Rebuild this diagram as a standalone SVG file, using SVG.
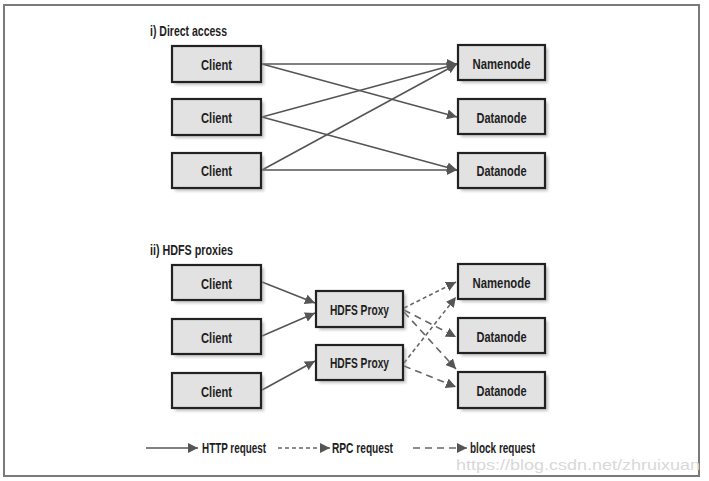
<svg xmlns="http://www.w3.org/2000/svg" width="709" height="481" viewBox="0 0 709 481">
<defs>
<style>
.box{fill:#e2e2e2;stroke:#222;stroke-width:2.2}
.shadow{fill:#9a9a9a;opacity:0.6;filter:url(#blur)}
.lbl{font-family:"Liberation Sans",Arial,sans-serif;font-weight:bold;font-size:15.5px;fill:#1e1e1e;text-anchor:middle}
.title{font-family:"Liberation Sans",Arial,sans-serif;font-weight:bold;font-size:15px;fill:#1e1e1e}
.http{stroke:#555;stroke-width:1.6;fill:none}
.rpc{stroke:#666;stroke-width:1.6;fill:none;stroke-dasharray:4 3}
.blk{stroke:#666;stroke-width:1.6;fill:none;stroke-dasharray:7 5}
.wm{font-family:"Liberation Sans",Arial,sans-serif;font-size:15px;fill:#d8d8d8}
</style>
<filter id="blur" x="-20%" y="-20%" width="140%" height="140%"><feGaussianBlur stdDeviation="1.5"/></filter>
<marker id="ahL" viewBox="0 0 10 10" refX="10" refY="5" markerWidth="10" markerHeight="10" markerUnits="userSpaceOnUse" orient="auto">
<path d="M0,0 L10,5 L0,10 z" fill="#555"/>
</marker>
</defs>
<rect x="0" y="0" width="709" height="481" fill="#fff"/>
<rect x="4" y="5" width="695" height="471" fill="none" stroke="#7a7a7a" stroke-width="2"/>

<text class="title" x="150" y="36" textLength="77" lengthAdjust="spacingAndGlyphs">i) Direct access</text>
<text class="title" x="150" y="255" textLength="83" lengthAdjust="spacingAndGlyphs">ii) HDFS proxies</text>

<g id="connectors">
<line class="http" x1="262" y1="64" x2="457" y2="64" marker-end="url(#ahL)"/>
<line class="http" x1="262" y1="64" x2="457" y2="117" marker-end="url(#ahL)"/>
<line class="http" x1="262" y1="117" x2="457" y2="64" marker-end="url(#ahL)"/>
<line class="http" x1="262" y1="117" x2="457" y2="170" marker-end="url(#ahL)"/>
<line class="http" x1="262" y1="170" x2="457" y2="64" marker-end="url(#ahL)"/>
<line class="http" x1="262" y1="170" x2="457" y2="170" marker-end="url(#ahL)"/>

<line class="http" x1="262" y1="282" x2="315" y2="303" marker-end="url(#ahL)"/>
<line class="http" x1="262" y1="336" x2="315" y2="313" marker-end="url(#ahL)"/>
<line class="http" x1="262" y1="390" x2="315" y2="361" marker-end="url(#ahL)"/>

<line class="rpc" x1="404" y1="308" x2="456" y2="282" marker-end="url(#ahL)"/>
<line class="rpc" x1="404" y1="363" x2="456" y2="297" marker-end="url(#ahL)"/>
<line class="blk" x1="404" y1="310" x2="456" y2="337" marker-end="url(#ahL)"/>
<line class="blk" x1="404" y1="312" x2="456" y2="369" marker-end="url(#ahL)"/>
<line class="blk" x1="404" y1="366" x2="456" y2="387" marker-end="url(#ahL)"/>

<line class="http" x1="146" y1="448" x2="198" y2="448" marker-end="url(#ahL)"/>
<line class="rpc" x1="278" y1="448" x2="330" y2="448" marker-end="url(#ahL)"/>
<line class="blk" x1="413" y1="448" x2="467" y2="448" marker-end="url(#ahL)"/>
</g>

<g id="client1"><rect class="shadow" x="175" y="49" width="89" height="36"/><rect class="box" x="172" y="46" width="89" height="36"/><text class="lbl" x="216.5" y="69.5" textLength="31" lengthAdjust="spacingAndGlyphs">Client</text></g>
<g id="client2"><rect class="shadow" x="175" y="102" width="89" height="36"/><rect class="box" x="172" y="99" width="89" height="36"/><text class="lbl" x="216.5" y="122.5" textLength="31" lengthAdjust="spacingAndGlyphs">Client</text></g>
<g id="client3"><rect class="shadow" x="175" y="156" width="89" height="35"/><rect class="box" x="172" y="153" width="89" height="35"/><text class="lbl" x="216.5" y="175.5" textLength="31" lengthAdjust="spacingAndGlyphs">Client</text></g>
<g id="namenode1"><rect class="shadow" x="461" y="48" width="87" height="35"/><rect class="box" x="458" y="45" width="87" height="35"/><text class="lbl" x="501.5" y="68.5" textLength="58" lengthAdjust="spacingAndGlyphs">Namenode</text></g>
<g id="datanode1"><rect class="shadow" x="461" y="102" width="87" height="35"/><rect class="box" x="458" y="99" width="87" height="35"/><text class="lbl" x="501.5" y="122.5" textLength="50" lengthAdjust="spacingAndGlyphs">Datanode</text></g>
<g id="datanode2"><rect class="shadow" x="461" y="156" width="87" height="35"/><rect class="box" x="458" y="153" width="87" height="35"/><text class="lbl" x="501.5" y="175.5" textLength="50" lengthAdjust="spacingAndGlyphs">Datanode</text></g>

<g id="client4"><rect class="shadow" x="175" y="268" width="89" height="35"/><rect class="box" x="172" y="265" width="89" height="35"/><text class="lbl" x="216.5" y="288.5" textLength="31" lengthAdjust="spacingAndGlyphs">Client</text></g>
<g id="client5"><rect class="shadow" x="175" y="322" width="89" height="35"/><rect class="box" x="172" y="319" width="89" height="35"/><text class="lbl" x="216.5" y="342.5" textLength="31" lengthAdjust="spacingAndGlyphs">Client</text></g>
<g id="client6"><rect class="shadow" x="175" y="376" width="89" height="35"/><rect class="box" x="172" y="373" width="89" height="35"/><text class="lbl" x="216.5" y="396.5" textLength="31" lengthAdjust="spacingAndGlyphs">Client</text></g>
<g id="proxy1"><rect class="shadow" x="319" y="294" width="87" height="36"/><rect class="box" x="316" y="291" width="87" height="36"/><text class="lbl" x="359.5" y="314.5" textLength="59" lengthAdjust="spacingAndGlyphs">HDFS Proxy</text></g>
<g id="proxy2"><rect class="shadow" x="319" y="348" width="87" height="35"/><rect class="box" x="316" y="345" width="87" height="35"/><text class="lbl" x="359.5" y="367.5" textLength="59" lengthAdjust="spacingAndGlyphs">HDFS Proxy</text></g>
<g id="namenode2"><rect class="shadow" x="461" y="267" width="87" height="35"/><rect class="box" x="458" y="264" width="87" height="35"/><text class="lbl" x="501.5" y="287.5" textLength="58" lengthAdjust="spacingAndGlyphs">Namenode</text></g>
<g id="datanode3"><rect class="shadow" x="461" y="321" width="87" height="35"/><rect class="box" x="458" y="318" width="87" height="35"/><text class="lbl" x="501.5" y="341.5" textLength="50" lengthAdjust="spacingAndGlyphs">Datanode</text></g>
<g id="datanode4"><rect class="shadow" x="461" y="375" width="87" height="36"/><rect class="box" x="458" y="372" width="87" height="36"/><text class="lbl" x="501.5" y="395.5" textLength="50" lengthAdjust="spacingAndGlyphs">Datanode</text></g>

<g id="legend">
<text class="title" x="202" y="453" textLength="64" lengthAdjust="spacingAndGlyphs">HTTP request</text>
<text class="title" x="332" y="453" textLength="61" lengthAdjust="spacingAndGlyphs">RPC request</text>
<text class="title" x="470" y="453" textLength="65" lengthAdjust="spacingAndGlyphs">block request</text>
</g>
<text class="wm" x="456" y="470" textLength="244" lengthAdjust="spacingAndGlyphs">https://blog.csdn.net/zhruixuan</text>
</svg>
